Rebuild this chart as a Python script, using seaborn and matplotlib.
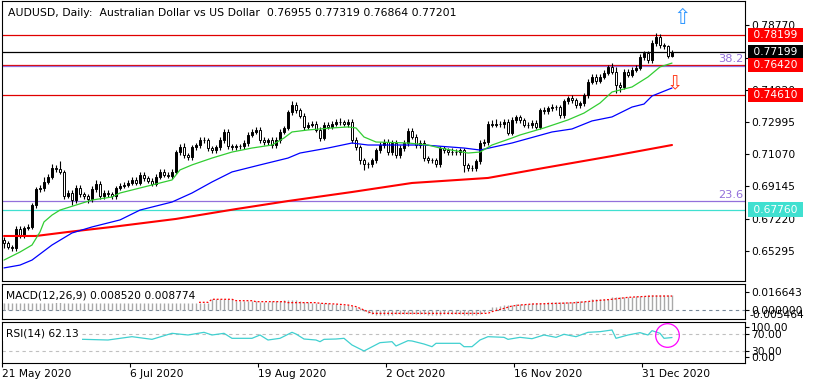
import numpy as np
import pandas as pd
import matplotlib
matplotlib.use("Agg")
import matplotlib.pyplot as plt
import seaborn as sns

sns.set_theme(style="white", rc={"axes.edgecolor": "black", "axes.linewidth": 0.8,
                                 "xtick.color": "black", "ytick.color": "black",
                                 "text.color": "black"})
plt.rcParams['font.family'] = ['DejaVu Sans']

# ---------------- data ----------------
title = "AUDUSD, Daily:  Australian Dollar vs US Dollar  0.76955 0.77319 0.76864 0.77201"
first_open = 0.6595
close = [0.6576, 0.6552, 0.6546, 0.6660, 0.6618, 0.6666, 0.6672, 0.6803, 0.6899, 0.6905,
         0.6941, 0.6971, 0.7025, 0.7020, 0.7001, 0.6857, 0.6875, 0.6833, 0.6905, 0.6869,
         0.6857, 0.6839, 0.6899, 0.6929, 0.6857, 0.6875, 0.6869, 0.6857, 0.6905, 0.6917,
         0.6923, 0.6935, 0.6953, 0.6935, 0.6983, 0.6965, 0.6947, 0.6929, 0.6971, 0.7001,
         0.6983, 0.6977, 0.7001, 0.7120, 0.7150, 0.7102, 0.7090, 0.7150, 0.7162, 0.7192,
         0.7190, 0.7144, 0.7132, 0.7150, 0.7192, 0.7240, 0.7156, 0.7150, 0.7156, 0.7154,
         0.7174, 0.7222, 0.7240, 0.7252, 0.7192, 0.7180, 0.7192, 0.7162, 0.7192, 0.7240,
         0.7264, 0.7359, 0.7401, 0.7371, 0.7336, 0.7270, 0.7282, 0.7288, 0.7252, 0.7204,
         0.7282, 0.7270, 0.7288, 0.7300, 0.7298, 0.7288, 0.7300, 0.7192, 0.7150, 0.7072,
         0.7048, 0.7046, 0.7072, 0.7132, 0.7162, 0.7180, 0.7120, 0.7174, 0.7102, 0.7144,
         0.7174, 0.7246, 0.7210, 0.7162, 0.7174, 0.7084, 0.7072, 0.7070, 0.7048, 0.7144,
         0.7132, 0.7120, 0.7122, 0.7118, 0.7132, 0.7042, 0.7025, 0.7023, 0.7066, 0.7174,
         0.7180, 0.7288, 0.7282, 0.7288, 0.7286, 0.7300, 0.7234, 0.7311, 0.7329, 0.7311,
         0.7282, 0.7280, 0.7294, 0.7270, 0.7371, 0.7365, 0.7383, 0.7389, 0.7387, 0.7341,
         0.7425, 0.7443, 0.7431, 0.7401, 0.7413, 0.7461, 0.7539, 0.7569, 0.7545, 0.7569,
         0.7593, 0.7628, 0.7599, 0.7521, 0.7509, 0.7599, 0.7581, 0.7611, 0.7623, 0.7688,
         0.7712, 0.7670, 0.7772, 0.7808, 0.7760, 0.7752, 0.76955, 0.77201]
up_pips = [15, 10, 12, 20, 15, 12, 18, 10, 12, 20,
           30, 15, 25, 20, 45, 10, 15, 20, 15, 20,
           15, 12, 20, 25, 15, 15, 20, 15, 12, 15,
           18, 15, 20, 15, 20, 15, 12, 15, 18, 15,
           20, 15, 15, 10, 20, 25, 15, 15, 15, 20,
           20, 15, 12, 15, 20, 15, 20, 15, 15, 12,
           15, 20, 15, 20, 15, 15, 12, 15, 15, 15,
           10, 15, 25, 20, 15, 15, 20, 15, 15, 15,
           15, 20, 15, 20, 25, 15, 20, 20, 15, 15,
           15, 15, 15, 15, 20, 15, 20, 15, 15, 20,
           15, 20, 15, 15, 20, 15, 15, 15, 15, 15,
           15, 15, 20, 15, 15, 15, 15, 15, 15, 15,
           15, 20, 25, 30, 15, 20, 15, 20, 15, 15,
           15, 15, 15, 20, 15, 20, 15, 20, 15, 15,
           15, 15, 20, 15, 15, 15, 15, 20, 15, 15,
           15, 15, 25, 30, 20, 15, 15, 15, 15, 20,
           15, 15, 15, 25, 20, 15, 10, 12]
dn_pips = [30, 10, 15, 15, 12, 15, 12, 10, 15, 20,
           20, 15, 15, 20, 15, 15, 12, 30, 15, 15,
           15, 25, 15, 15, 15, 15, 20, 15, 20, 15,
           15, 15, 15, 15, 15, 20, 15, 15, 15, 15,
           15, 15, 20, 15, 15, 15, 20, 15, 15, 15,
           15, 15, 20, 15, 15, 20, 15, 15, 15, 15,
           15, 15, 15, 15, 20, 15, 15, 15, 15, 15,
           15, 15, 15, 15, 15, 20, 15, 15, 15, 20,
           15, 15, 15, 15, 15, 15, 20, 20, 15, 25,
           35, 20, 15, 15, 15, 15, 20, 15, 15, 15,
           15, 15, 15, 15, 15, 20, 15, 15, 20, 15,
           15, 15, 15, 15, 15, 40, 20, 15, 15, 15,
           15, 15, 15, 15, 15, 20, 15, 15, 15, 15,
           15, 15, 15, 15, 15, 15, 15, 15, 15, 15,
           15, 15, 15, 15, 20, 15, 20, 15, 20, 15,
           15, 15, 15, 48, 30, 15, 15, 15, 15, 15,
           15, 15, 20, 15, 15, 15, 15, 9]

green_bar = [0, 4, 7, 9, 10, 12, 14, 18, 22, 27, 29, 34, 37, 42, 44, 47, 52, 57, 62, 67,
             70, 72, 76, 82, 86, 88, 90, 93, 101, 106, 109, 116, 119, 122, 127, 129, 135, 141,
             145, 149, 152, 157, 161, 164, 167]
green_val = [0.6474, 0.6522, 0.6564, 0.6642, 0.6702, 0.6743, 0.6773, 0.6803, 0.6833, 0.6851,
             0.6875, 0.6905, 0.6923, 0.6953, 0.7013, 0.7043, 0.7084, 0.7120, 0.7144, 0.7162,
             0.7204, 0.7240, 0.7252, 0.7264, 0.7270, 0.7264, 0.7210, 0.7180, 0.7174, 0.7162,
             0.7144, 0.7114, 0.7120, 0.7162, 0.7204, 0.7222, 0.7264, 0.7312, 0.7353, 0.7413,
             0.7479, 0.7509, 0.7569, 0.7629, 0.7652]
blue_bar = [0, 4, 7, 12, 17, 22, 29, 34, 42, 47, 52, 57, 64, 71, 74, 81, 87, 91, 99, 105,
            115, 119, 127, 137, 142, 147, 152, 157, 160, 162, 167]
blue_val = [0.6427, 0.6444, 0.6474, 0.6564, 0.6636, 0.6672, 0.6714, 0.6773, 0.6821, 0.6875,
            0.6941, 0.7001, 0.7043, 0.7084, 0.7114, 0.7144, 0.7174, 0.7162, 0.7162, 0.7162,
            0.7144, 0.7132, 0.7174, 0.7240, 0.7258, 0.7306, 0.7330, 0.7389, 0.7407, 0.7455,
            0.7503]
red_bar = [0, 8, 16, 27, 43, 58, 71, 87, 102, 121, 135, 152, 167]
red_val = [0.6618, 0.6618, 0.6642, 0.6672, 0.6720, 0.6779, 0.6827, 0.6881, 0.6935, 0.6965,
           0.7025, 0.7096, 0.7162]

red_levels = [0.78199, 0.76420, 0.74610]
black_level = 0.77199
fib_levels = [0.7635, 0.6827]
fib_labels = ["38.2", "23.6"]
turq_level = 0.67760
price_ticks = [0.78770, 0.76845, 0.74920, 0.72995, 0.71070, 0.69145, 0.67220, 0.65295]

macd_hist = [6.9, 6.9, 6.8, 6.8, 6.8, 6.8, 6.8, 6.8, 6.8, 6.8,
             6.8, 6.8, 6.8, 21.5, 21.5, 6.8, 6.8, 6.8, 6.8, 6.8,
             6.8, 6.8, 6.8, 6.8, 6.8, 6.8, 6.8, 6.8, 6.8, 6.8,
             6.8, 6.8, 6.8, 6.8, 6.8, 6.8, 6.8, 6.8, 6.8, 6.8,
             6.8, 6.8, 6.8, 6.8, 6.8, 6.8, 6.8, 6.8, 6.8, 6.8,
             6.8, 6.8, 9.9, 9.9, 9.9, 9.9, 9.9, 9.9, 8.6, 8.6,
             8.6, 8.3, 8.3, 8.0, 7.7, 7.7, 7.7, 8.0, 8.3, 8.6,
             9.2, 9.2, 9.2, 8.9, 8.3, 7.4, 7.1, 6.8, 6.8, 6.8,
             6.5, 6.2, 5.8, 5.5, 4.9, 4.6, 4.6, 4.0, 2.5, 1.5,
             -0.9, -2.5, -3.7, -4.3, -4.6, -4.6, -4.3, -4.3, -4.0, -4.0,
             -3.7, -3.4, -3.4, -3.4, -3.7, -4.0, -4.3, -4.3, -4.6, -4.3,
             -4.0, -4.0, -4.0, -4.0, -4.0, -4.3, -4.6, -4.6, -4.3, -3.4,
             -2.2, -0.9, 2.5, 3.1, 3.7, 4.3, 4.6, 4.9, 5.2, 5.5,
             5.8, 5.8, 6.2, 6.2, 6.5, 6.8, 7.1, 7.4, 7.4, 7.7,
             7.7, 7.7, 7.7, 8.0, 8.0, 8.3, 8.6, 9.9, 9.9, 10.2,
             10.2, 10.5, 11.7, 12.0, 12.0, 12.3, 12.3, 12.3, 12.6, 12.6,
             12.9, 13.5, 13.9, 13.9, 13.9, 13.9, 13.9, 13.5]
sig_bar = [0, 51, 52, 57, 58, 62, 63, 70, 71, 78, 79, 83, 86, 88, 90, 91, 92, 121, 122, 125,
           127, 129, 132, 139, 143, 148, 152, 156, 162, 167]
sig_val = [7.1, 7.1, 9.9, 9.9, 8.6, 8.6, 7.7, 7.7, 6.8, 6.8, 6.2, 5.5, 4.6, 3.1, 0.0, -1.5,
           -3.1, -3.1, -1.5, 1.5, 3.7, 4.6, 5.5, 6.2, 6.8, 8.6, 9.9, 11.7, 12.9, 12.9]
macd_label = "MACD(12,26,9) 0.008520 0.008774"
macd_ticks = [0.016643, 0.0]
macd_tick_labels = ["0.016643", "0.000000"]
macd_min_label = "-0.005464"

rsi_bar = [0, 20, 26, 32, 37, 42, 46, 50, 52, 55, 57, 62, 64, 66, 69, 72, 73, 75, 78, 79,
           80, 83, 85, 87, 90, 94, 97, 98, 101, 102, 105, 107, 108, 114, 115, 117, 119, 121,
           125, 126, 129, 132, 135, 138, 140, 143, 146, 149, 152, 153, 156, 159, 161, 162,
           164, 165, 167]
rsi_val = [58.5, 57.7, 56.1, 64.2, 57.7, 72.4, 68.3, 74.8, 68.3, 72.4, 60.2, 60.2, 68.3, 56.1,
           60.2, 74.8, 70.7, 58.5, 56.1, 52.0, 57.7, 58.5, 60.2, 43.9, 29.3, 49.6, 52.0, 41.5,
           54.5, 53.7, 46.3, 39.8, 48.0, 48.0, 39.8, 39.8, 56.1, 64.2, 62.6, 57.7, 62.6, 59.3,
           68.3, 62.6, 70.0, 64.2, 74.8, 76.4, 80.5, 60.2, 68.3, 74.0, 68.3, 78.9, 72.4, 60.2,
           62.1]
rsi_label = "RSI(14) 62.13"
rsi_ticks = [87.8, 70.0, 30.0, 14.6]
rsi_tick_labels = ["100.00", "70.00", "30.00", "0.00"]

date_bars = [0, 32, 64, 96, 128, 160]
date_labels = ["21 May 2020", "6 Jul 2020", "19 Aug 2020", "2 Oct 2020", "16 Nov 2020", "31 Dec 2020"]

assert len(close) == len(up_pips) == len(dn_pips) == len(macd_hist)

n = len(close)
df = pd.DataFrame({"bar": np.arange(n), "close": close})
df["open"] = [first_open] + close[:-1]
df["top"] = df[["open", "close"]].max(axis=1)
df["bot"] = df[["open", "close"]].min(axis=1)
df["high"] = df["top"] + np.array(up_pips) * 1e-4
df["low"] = df["bot"] - np.array(dn_pips) * 1e-4

# ---------------- layout ----------------
W, H = 815, 387
fig = plt.figure(figsize=(W / 100, H / 100), dpi=100)
fig.patch.set_facecolor("white")


def panel(top, bottom, left=2, right=745):
    return fig.add_axes([left / W, 1 - bottom / H, (right - left) / W, (bottom - top) / H])


ax = panel(0.5, 281)
axm = panel(284, 319)
axr = panel(322, 363)
for a in (ax, axm, axr):
    a.set_xlim(-0.5, 185.25)
    a.set_facecolor("white")
    for s in a.spines.values():
        s.set_color("black")
        s.set_linewidth(0.8)
    a.yaxis.tick_right()
    a.tick_params(axis="y", direction="out", length=3, width=0.8, pad=1.2,
                  labelsize=7.7, right=True, left=False)
    a.tick_params(axis="x", bottom=False, labelbottom=False)

FS = 7.7

# ---------------- main price panel ----------------
ax.set_ylim(0.63488, 0.80262)
for lvl in red_levels:
    ax.axhline(lvl, color="#E00000", lw=0.9, zorder=2)
ax.axhline(black_level, color="black", lw=0.9, zorder=2)
for lvl, lab in zip(fib_levels, fib_labels):
    ax.axhline(lvl, color="#9370DB", lw=0.9, zorder=2)
    ax.annotate(lab, xy=(1, lvl), xycoords=("axes fraction", "data"), xytext=(-2, 1.5),
                textcoords="offset pixels", ha="right", va="bottom", color="#9370DB",
                fontsize=8.2)
ax.axhline(turq_level, color="#40E0D0", lw=0.9, zorder=2)

upc = df["close"] >= df["open"]
ax.vlines(df["bar"], df["low"], df["high"], color="black", lw=0.8, zorder=3)
ax.bar(df["bar"], (df["top"] - df["bot"]).clip(lower=0.00008), bottom=df["bot"], width=0.55,
       color=np.where(upc, "black", "white"), edgecolor="black", linewidth=0.7, zorder=4)

sns.lineplot(x=red_bar, y=red_val, ax=ax, color="#FF0000", linewidth=1.5, zorder=5,
             estimator=None, legend=False)
sns.lineplot(x=blue_bar, y=blue_val, ax=ax, color="#0000FF", linewidth=0.9, zorder=5,
             estimator=None, legend=False)
sns.lineplot(x=green_bar, y=green_val, ax=ax, color="#32CD32", linewidth=0.9, zorder=5,
             estimator=None, legend=False)
ax.set_xlabel("")
ax.set_ylabel("")

ax.set_yticks(price_ticks)
ax.set_yticklabels([f"{v:.5f}" for v in price_ticks])

for lvl, bg in [(red_levels[0], "#FF0000"), (black_level, "black"), (red_levels[1], "#FF0000"),
                (red_levels[2], "#FF0000"), (turq_level, "#40E0D0")]:
    ax.annotate(f" {lvl:.5f} ", xy=(1, lvl), xycoords=("axes fraction", "data"),
                xytext=(5, 0), textcoords="offset pixels", ha="left", va="center",
                color="white", fontsize=FS, zorder=10,
                bbox=dict(boxstyle="square,pad=0.2", facecolor=bg, edgecolor="none"))

ax.annotate(title, xy=(0, 1), xycoords="axes fraction", xytext=(6, -12.5),
            textcoords="offset pixels", ha="left", va="center", fontsize=7.8)

# arrows (chart objects)
ax.text(169.5, 0.7922, "\u21e7", color="#3399FF", fontsize=15, ha="center", va="center",
        zorder=8)
ax.text(167.6, 0.7527, "\u21e9", color="#FF3A1A", fontsize=14, ha="center", va="center",
        zorder=8)

# ---------------- MACD panel ----------------
axm.set_ylim(-0.00832, 0.02404)
mh = np.array(macd_hist) * 1e-3
axm.axhline(0, color="#778899", lw=0.8, ls=(0, (3, 3)), zorder=1)
axm.vlines(np.arange(n), 0, mh, color="#A9A9A9", lw=1.0, zorder=2)
sns.lineplot(x=sig_bar, y=np.array(sig_val) * 1e-3, ax=axm, color="#FF0000", linewidth=0.9,
             linestyle=(0, (1.5, 1.5)), zorder=3, estimator=None, legend=False)
axm.set_xlabel("")
axm.set_ylabel("")
axm.set_yticks(macd_ticks)
axm.set_yticklabels(macd_tick_labels)
axm.annotate(macd_min_label, xy=(1, 0), xycoords="axes fraction", xytext=(4, 4.5),
             textcoords="offset pixels", ha="left", va="center", fontsize=FS)
axm.annotate(macd_label, xy=(0, 1), xycoords="axes fraction", xytext=(4, -11),
             textcoords="offset pixels", ha="left", va="center", fontsize=FS, zorder=10,
             bbox=dict(boxstyle="square,pad=0.25", facecolor="white", edgecolor="none"))

# ---------------- RSI panel ----------------
axr.set_ylim(0, 100)
axr.axhline(70, color="#C0C0C0", lw=0.8, ls=(0, (3, 3)), zorder=1)
axr.axhline(30, color="#C0C0C0", lw=0.8, ls=(0, (3, 3)), zorder=1)
sns.lineplot(x=rsi_bar, y=rsi_val, ax=axr, color="#40D0D0", linewidth=0.9, zorder=3,
             estimator=None, legend=False)
axr.plot([165.75], [68.3], marker="o", ms=17, mfc="none", mec="#FF00FF", mew=0.9,
         clip_on=False, zorder=6)
axr.set_xlabel("")
axr.set_ylabel("")
axr.set_yticks(rsi_ticks)
axr.set_yticklabels(rsi_tick_labels)
axr.annotate(rsi_label, xy=(0, 1), xycoords="axes fraction", xytext=(4, -11),
             textcoords="offset pixels", ha="left", va="center", fontsize=FS, zorder=10,
             bbox=dict(boxstyle="square,pad=0.3", facecolor="white", edgecolor="none"))

axr.tick_params(axis="x", bottom=True, labelbottom=True, direction="out", length=3,
                width=0.8, pad=1.5, labelsize=FS)
axr.set_xticks([b - 0.4 for b in date_bars])
axr.set_xticklabels(date_labels)
for lb in axr.get_xticklabels():
    lb.set_ha("left")

fig.savefig("out.png", dpi=100, facecolor="white")
